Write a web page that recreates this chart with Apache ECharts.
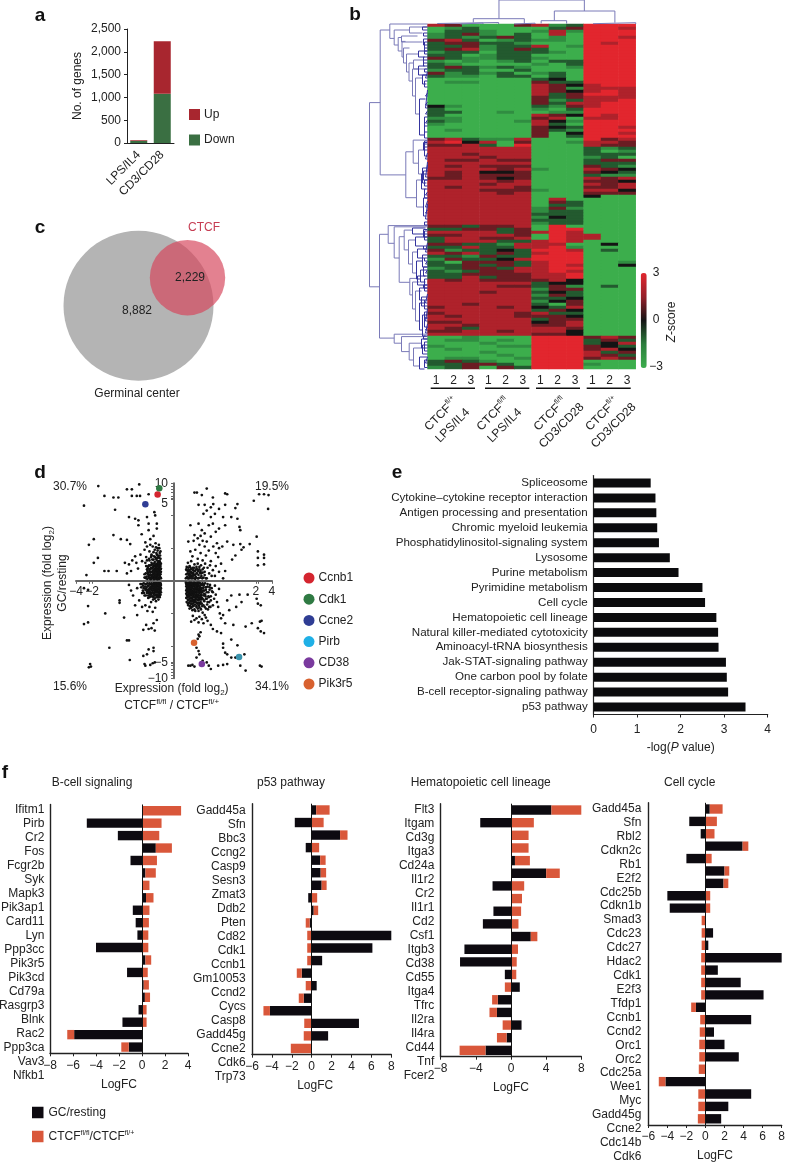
<!DOCTYPE html>
<html>
<head>
<meta charset="utf-8">
<style>html,body{margin:0;padding:0;background:#fff}#fig{width:788px;height:1164px}</style>
<script src="https://cdn.jsdelivr.net/npm/echarts@6/dist/echarts.min.js"></script>
</head>
<body>
<div id="fig"></div>
<script>
const FONT = '"Liberation Sans", Arial, sans-serif';
const INK = '#222222';

// panel a
const aCategories = ['LPS/IL4', 'CD3/CD28'];
const aDown = [48, 1080];
const aUp = [15, 1150];

// panel c
const vennSizes = [11111, 2807];
const vennX = [0, 49];
const vennY = [0, 28];

// panel b: 0 = z -3 ... 3 = z 0 ... 6 = z +3, one string per gene row
const heatColumns = ['1', '2', '3', '1', '2', '3', '1', '2', '3', '1', '2', '3'];
const heatRows = [
  '540004512666','012000024665','022100151666','124102050666','121242010665','452012110666',
  '244221000656','224122501666','245124200666','122022210666','220122000666','421122100666',
  '101012022666','210000102666','242121001666','122002000666','412120120666','211022020666',
  '000000230666','011000422666','000000543566','000000541555','000000543565','000000524665',
  '000000424555','000000412556','000000425566','310000214566','200000102666','220010011666',
  '200000543656','110000450556','210001531666','100000520666','000000432665','010000421666',
  '000000403665','000000402666','452115000645','563504001554','445206000544','555555000212',
  '555555000201','554555000222','555455000120','544544000244','555555000222','545444000421',
  '555545100543','545334000432','545444000211','445434000545','555545000443','555455000545',
  '545554000445','555444100553','555545000444','555555000300','555555050000','555555042000',
  '555555022000','555555141000','555555122000','555555222000','555555132000','555555222000',
  '555555122000','442445060000','224424066000','555524565000','445554065500','255445065500',
  '255522565000','442215550030','225225561000','412232665020','545242566000','221422666000',
  '142235666000','204442566001','224242565003','124425566000','212445565000','224444556000',
  '225244556000','545444453000','555555233000','555544241020','555555144000','555455232000',
  '555555142000','555555223000','555555134000','554555204000','455545325000','555555243000',
  '455554522000','545554443000','555555244000','445555345000','554555445000','542555554000',
  '445545553000','555555443000','001000666454','011010666242','000100666235','100011666432',
  '010000666453','000100666524','000010666542','011001666454','242100666000','224420666100',
  '124042666000'
];

// dendrograms: [join height, row A, height A, row B, height B]
const rowLinks = [
  [58,26.2,47.3,87.6,48],[47.3,2,37.7,50.3,21.7],[48,70.1,39.3,104.7,33.3],
  [37.7,0,0,4.8,33.3],[33.3,2,18,7,29.3],[18,1,0,3,5],[29.3,4.5,26,9,25.5],[26,4,10,6,5],
  [25.5,5.8,22,11,24],[24,8,18,13,21],[21,10,9,16,18.5],[18.5,13,14,19,15],[14,12,4,15,0],
  [15,15,9,24,12],[12,18,5,30,8],[21.7,42.6,14.3,57.9,11],[14.3,38.7,0,46.4,9],[9,42,3,50,5],
  [11,52,6,61,4],[39.3,67.2,0,73.1,33.3],[33.3,67.6,0,78,28.3],[28.3,70.9,23.3,86.1,17.7],
  [23.3,68.7,15,75.3,19],[19,72,12,80,15],[15,76,10,83,11],[17.7,84.8,10,90.3,15],
  [15,86,8,95,12],[12,89,6,99,8],[33.3,103.4,0,106.4,26],[26,104.2,0,109.2,18.3],
  [18.3,106.4,6,112,14],[14,108,5,114,8]
];
const rowLeafLinks = [
  [9,9,0,11,3],[9,14,3,17,0],[8,25,2,37,3],[5,17,0,20,1],[2,22,0,28,0],[3,31,0,38,0],[3,34,0,36,0],
  [5,48,0,53,1],[3,40,0,44,0],[6,50,0,55,2],[4,58,0,64,1],[2,60,0,65,0],[1,46,0,49,0],
  [15,68,2,70,0],[12,71,0,74,4],[10,75,0,78,3],[11,79,5,85,7],[5,77,0,81,0],[7,82,0,86,2],
  [10,84,2,87,0],[8,88,0,92,3],[6,91,0,94,0],[8,93,3,102,5],[3,96,0,98,0],[5,97,0,104,2],
  [2,100,0,103,0],[6,105,0,108,0],[5,107,0,110,0],[8,111,0,115,3],[3,112,0,114.5,0],
  [5,1,0,2,0],[4,5,0,7,0],[3,8,0,10,0],[4,12,0,13,0],[2,16,0,18,0],[3,19,0,21,0],[2,23,0,24,0],
  [2,26,0,27,0],[2,29,0,30,0],[2,32,0,33,0],[3,39,0,41,0],[2,43,0,45,0],[2,47,0,51,0],
  [3,52,0,54,0],[2,56,0,57,0],[2,59,0,61,0],[2,62,0,63,0],[3,66,0,67,0],[3,69,0,72,0],
  [2,73,0,76,0],[2,79,0,80,0],[2,82,0,83,0],[3,85,0,89,0],[2,90,0,93,0],[2,95,0,99,0],
  [2,101,0,102,0],[3,106,0,109,0],[2,111,0,113,0],[4,3,0,4,0],[3,6,0,9,0],[4,11,0,14,0],
  [3,15,0,16,0],[4,39.5,0,42,0],[4,49,0,52,0],[3,55,0,58,0],[4,68.5,0,71,0],[4,74,0,75,0],
  [3,78,0,79,0],[4,81,0,84,0],[4,87,0,88,0],[3,92,0,95,0],[3,98,0,101,0],[4,104,0,105,0]
];
const colLinks = [
  [24,4.12,5.3,9.04,13],[5.3,2.64,1.5,5.58,0],[1.5,0.56,0.5,4.1,0],[13,7.31,3.3,10.8,1.3],
  [3.3,6.55,0.5,8.02,0.5],[1.3,9.54,0.3,12,0],[1,1.9,0,3.2,0],[0.8,5.0,0,6.2,0]
];

// panel d: fold changes on the broken axes of the picture
const pointsUL = [
  [-1.85,5.8],[-1.7,5.2],[-1.48,5.1],[-1.36,5.1],[-1.15,5.6],[-1.03,5.6],[-.85,5.9],[-1.03,5.2],[-.91,5.2],[-.83,5.2],
  [-.62,5.3],[-2.2,4.6],[-1.44,4.35],[-.48,4.2],[-1.1,3.9],[-.95,3.8],[-.87,3.7],[-.66,3.9],[-.62,3.5],[-.42,3.5],
  [-.46,4],[-.42,3.2],[-.62,3.1],[-.87,3.4],[-1.48,2.8],[-1.3,2.55],[-1.15,2.5],[-1.96,2.55],[-2.08,2.2],[-.79,2.85],
  [-.7,2.35],[-.5,2.75],[-1.07,2.25],[-.58,2.55],[-1.86,1.4],[-1.96,1.1],[-1.7,.6],[-1.6,.6],[-1.4,.6],[-2.14,.35],
  [-1.2,1.1],[-1.1,1],[-1.02,1.25],[-.95,1.5],[-.88,.75],[-.92,1.1],[-1.05,.6],[-1.15,.45],[-.82,1.6],[-.78,1.2],
  [-.72,1.9],[-.68,1.45],[-.66,2.1],[-.62,.9],[-.6,1.8],[-.58,2.2],[-.55,1.6],[-.52,2.1],[-.5,1.3],[-.47,1.9],
  [-.45,2.3],[-.42,1.6],[-.4,2],[-.38,1.2],[-.37,2.2],[-.35,1.7],[-.7,1.1],[-.68,.9],[-.66,.7],[-.64,.5],
  [-.72,.4],[-.7,.2],[-.62,.3],[-.6,.15],[-.58,.5],[-.56,.8],[-.55,1.1],[-.54,.35],[-.52,.6],[-.5,.2],
  [-.5,.9],[-.48,.45],[-.47,1.15],[-.46,.7],[-.45,.15],[-.44,.9],[-.43,.35],[-.42,.55],[-.41,1.05],[-.4,.2],
  [-.4,.75],[-.39,.4],[-.38,.95],[-.37,.15],[-.36,.6],[-.35,.3],[-.35,.85],[-.34,1.1],[-.34,.5],[-.33,.2],
  [-.33,.7],[-.33,1.35],[-.68,.15],[-.64,.85],[-.6,.6],[-.57,.2],[-.53,1.3],[-.49,1.5],[-.44,1.35],[-.41,.12],
  [-.38,.6],[-.36,1.4],[-.66,1.25],[-.61,1.35],[-.56,1.45],[-.51,.4],[-.47,.25],[-.43,1.7],[-.39,1.55],[-.35,1.2],
  [-.72,.2],[-.69,.45],[-.67,.25],[-.65,.12],[-.65,.6],[-.63,.4],[-.63,.75],[-.61,.2],[-.61,.95],[-.59,.35],
  [-.59,.7],[-.57,.1],[-.57,.95],[-.56,.55],[-.55,.3],[-.54,.75],[-.53,.15],[-.53,1],[-.52,.5],[-.51,.85],
  [-.51,.25],[-.5,.65],[-.49,.1],[-.49,1.05],[-.48,.75],[-.48,.3],[-.47,.55],[-.47,.9],[-.46,.15],[-.46,.4],
  [-.45,.65],[-.45,1],[-.44,.25],[-.44,.8],[-.43,.5],[-.43,.12],[-.42,.7],[-.42,.95],[-.41,.3],[-.41,.6],
  [-.4,.1],[-.4,.45],[-.4,.9],[-.39,.2],[-.39,.65],[-.39,1.1],[-.38,.35],[-.38,.8],[-.37,.5],[-.37,.95],
  [-.36,.12],[-.36,.35],[-.36,.75],[-.35,.55],[-.35,1],[-.34,.2],[-.34,.7],[-.33,.4],[-.33,.9],[-.32,.15],
  [-.32,.55],[-.32,.75],[-.32,1.05],[-.6,1.25],[-.55,1.55],[-.5,1.75],[-.46,1.45],[-.44,2.05],[-.42,1.25],[-.4,1.85],
  [-.38,1.45],[-.36,2],[-.34,1.55],[-.33,1.8],[-.37,1.05],[-.41,1.4]
];
const pointsUR = [
  [.5,5.4],[.56,5.4],[.8,5.65],[.68,5.25],[.95,5.1],[1.25,5.35],[1.3,5.3],[1.5,4.45],[1.95,4.9],[2.08,5.3],
  [2.2,5.3],[2.31,5.25],[2.3,4.4],[.6,4.65],[.75,4.65],[.9,4.5],[.96,4.7],[1.25,4.65],[1.55,4.7],[.72,4.1],
  [.8,4.3],[.9,3.9],[1,4.1],[1.1,4.4],[1.2,3.9],[1.4,3.9],[1.55,3.8],[.4,3.4],[.6,3.5],[.68,3.1],
  [.85,3.4],[.95,3.5],[1.02,3],[1.1,3.2],[1.25,3.4],[1.6,3.3],[1.62,3.1],[.5,2.8],[.65,2.75],[.75,2.9],
  [.8,2.4],[.9,2.7],[1.05,2.3],[.35,2.4],[.48,2.45],[.58,2.6],[.7,2.45],[.62,2.2],[.75,2.1],[.96,2.1],
  [1.1,2],[1.18,2.1],[1.3,2.4],[1.45,2.2],[1.62,2.25],[1.7,2.05],[1.85,2.25],[2.02,2.7],[2.05,1.8],[2.2,1.6],
  [2.2,1.4],[2.05,1.4],[2.2,1],[2.05,.95],[1.65,1.9],[.4,1.8],[.45,1.5],[.52,1.9],[.58,1.35],[.65,1.7],
  [.7,1.25],[.78,1.55],[.85,1.85],[.9,1.2],[1.02,1.7],[1.08,1.45],[1.15,1.05],[1.25,.6],[1.42,1.3],[1.5,1.55],
  [.34,1.1],[.38,.9],[.42,1.2],[.46,.8],[.5,1],[.54,.7],[.58,1.05],[.62,.85],[.66,.95],[.7,.7],
  [.76,1.05],[.82,.8],[.88,.95],[.95,.65],[1.02,.9],[1.1,.55],[.3,.7],[.33,.45],[.36,.6],[.39,.25],
  [.42,.5],[.45,.15],[.48,.4],[.5,.6],[.53,.25],[.56,.45],[.6,.15],[.63,.5],[.67,.3],[.72,.2],
  [.31,.2],[.34,.15],[.37,.35],[.41,.7],[.44,.3],[.47,.65],[.52,.12],[.55,.85],[.59,.6],[.65,.6],
  [.75,.35],[.8,.15],[.86,.45],[.92,.3],[1,.3],[1.2,.15],
  [.29,.15],[.3,.4],[.31,.65],[.31,.85],[.33,.25],[.34,.6],[.35,.15],[.35,.8],[.37,.45],[.37,.65],
  [.38,.15],[.39,.85],[.4,.35],[.41,.55],[.42,.15],[.43,.75],[.44,.45],[.46,.3],[.47,.5],[.49,.15],
  [.49,.8],[.51,.35],[.52,.6],[.54,.2],[.55,.45],[.57,.7],[.58,.15],[.6,.35],[.62,.7],[.64,.2],
  [.66,.45],[.69,.15],[.7,.5],[.73,.8],[.75,.55],[.78,.15]
];
const pointsLL = [
  [-2.1,-.55],[-2.1,-1.55],[-2.2,-.45],[-2.2,-2.65],[-2.1,-2.55],[-1.68,-2],[-1.33,-1.2],[-1.33,-1.35],[-1.22,-2.25],[-1.1,-.25],
  [-1.05,-.6],[-1,-.9],[-.95,-1.5],[-.9,-2.1],[-.85,-1.2],[-.9,-.45],[-.82,-.2],[-.78,-1.6],[-.75,-.7],[-1.15,-3.65],
  [-1.1,-3.65],[-1.58,-4.1],[-1.08,-4.85],[-.75,-4.6],[-.66,-4.5],[-.5,-4.1],[-.5,-4.3],[-.62,-4.2],[-.72,-5.1],[-.7,-5.2],
  [-.58,-5.15],[-.52,-5.05],[-.47,-5],[-2.05,-5.1],[-2.03,-5.25],[-2.08,-5.3],[-.5,-2.6],[-.55,-2.9],[-.42,-2.4],[-.68,-2.7],
  [-.62,-2.95],[-.47,-3.05],[-.75,-3],[-.6,-1.6],[-.52,-1.9],[-.46,-1.65],[-.7,-1.5],[-.65,-1.85],[-.72,-.9],[-.68,-.5],
  [-.64,-.3],[-.62,-.75],[-.6,-.15],[-.58,-.45],[-.56,-.95],[-.55,-.2],[-.53,-.6],[-.52,-.3],[-.5,-.8],[-.5,-.15],
  [-.48,-.5],[-.47,-1.1],[-.46,-.25],[-.45,-.7],[-.44,-.4],[-.43,-.15],[-.42,-.9],[-.41,-.55],[-.4,-.2],[-.4,-1],
  [-.39,-.35],[-.38,-.7],[-.37,-.15],[-.36,-.5],[-.35,-.85],[-.35,-.25],[-.34,-.6],[-.33,-.15],[-.33,-.4],[-.66,-.65],
  [-.61,-.55],[-.57,-.7],[-.54,-.45],[-.49,-.35],[-.44,-1.25],[-.42,-.3],[-.38,-1.15],[-.36,-.95],[-.34,-.3],[-.59,-.85],
  [-.7,-.2],[-.74,-.45],[-.76,-.3],[-.63,-1.05],[-.56,-1.3],[-.51,-1.15],[-.78,-.75],[-.41,-.7],[-.39,-.15],[-.46,-.55],
  [-.8,-.4],[-.78,-.2],[-.76,-.6],[-.74,-.15],[-.73,-.75],[-.71,-.35],[-.7,-.55],[-.69,-.9],[-.68,-.2],[-.67,-.4],
  [-.66,-.75],[-.65,-.15],[-.64,-.55],[-.63,-.9],[-.62,-.3],[-.61,-.65],[-.6,-.45],[-.6,-1],[-.59,-.2],[-.58,-.75],
  [-.57,-.35],[-.56,-.55],[-.55,-.15],[-.55,-.8],[-.54,-.3],[-.53,-.95],[-.52,-.45],[-.52,-.7],[-.51,-.2],[-.5,-.55],
  [-.5,-1],[-.49,-.3],[-.49,-.75],[-.48,-.15],[-.48,-.9],[-.47,-.4],[-.47,-.65],[-.46,-.15],[-.45,-.5],[-.45,-.85],
  [-.44,-.25],[-.44,-.7],[-.43,-.45],[-.43,-1],[-.42,-.15],[-.42,-.6],[-.41,-.85],[-.41,-.3],[-.4,-.5],[-.39,-.7],
  [-.39,-.25],[-.38,-.45],[-.38,-.9],[-.37,-.3],[-.37,-.65],[-.36,-.15],[-.36,-.8],[-.35,-.45],[-.35,-1],[-.34,-.7],
  [-.34,-.15],[-.33,-.55],[-.33,-.85],[-.32,-.25],[-.32,-.45],[-.32,-.7]
];
const pointsLR = [
  [.3,-.2],[.32,-.45],[.34,-.7],[.36,-.15],[.38,-.5],[.4,-.85],[.42,-.25],[.44,-.6],[.46,-.15],[.48,-.95],
  [.5,-.35],[.52,-.7],[.54,-.2],[.56,-.5],[.58,-1],[.6,-.3],[.62,-.75],[.64,-.15],[.66,-.55],[.68,-1.05],
  [.3,-.6],[.32,-.9],[.34,-1.15],[.36,-.4],[.38,-.75],[.4,-1.25],[.42,-.55],[.44,-1.05],[.46,-.35],[.48,-.65],
  [.5,-1.2],[.52,-.15],[.54,-.9],[.56,-1.35],[.58,-.2],[.6,-.6],[.62,-1.15],[.64,-.4],[.66,-.85],[.68,-.25],
  [.31,-.3],[.33,-.15],[.35,-.55],[.37,-.95],[.39,-.3],[.41,-.6],[.43,-1.4],[.45,-.8],[.47,-1.2],[.49,-.2],
  [.51,-.5],[.53,-1.05],[.55,-.7],[.57,-.35],[.59,-.85],[.61,-1.5],[.63,-.55],[.65,-1.3],[.67,-.7],[.69,-1.55],
  [.72,-.3],[.74,-.8],[.76,-.15],[.78,-.55],[.8,-1.1],[.82,-.35],[.84,-.7],[.86,-1.3],[.88,-.25],[.9,-.95],
  [.71,-.6],[.73,-1.2],[.75,-1.6],[.77,-.95],[.79,-.4],[.81,-1.45],[.83,-1.75],[.85,-1],[.87,-.55],[.89,-1.6],
  [.35,-1.5],[.38,-1.7],[.42,-1.65],[.46,-1.55],[.5,-1.75],[.55,-1.6],[.6,-1.85],[.65,-1.7],[.7,-1.95],[.75,-2.1],
  [.46,-2.15],[.5,-2.4],[.42,-2.5],[.55,-2.3],[.6,-2.55],[.62,-2.2],[.68,-2.35],[.72,-2.6],[.78,-2.25],[.82,-2.45],
  [.92,-.45],[.95,-.7],[.98,-1.1],[1,-.3],[1.02,-.85],[1.05,-1.3],[1.08,-1.6],[1.1,-.5],[1.12,-2],[1.15,-2.3],
  [1.2,-2.1],[1.25,-2.6],[1.3,-1.2],[1.35,-1.8],[1.4,-.9],[1.45,-2.7],[1.52,-1.6],[1.6,-.85],[1.65,-1.3],[1.75,-2.8],
  [1.8,-.85],[1.9,-2.6],[2.02,-1.1],[2.05,-1.4],[2.12,-1.5],[2.1,-2.5],[2.14,-2.45],[2.2,-3.2],[2.12,-3.1],[2.05,-2.9],
  [.9,-2.7],[.95,-2.95],[1.05,-3.1],[1.15,-3.2],[.6,-3.3],[.62,-3.4],[.65,-3.15],[.58,-3.55],[.55,-4.1],[.6,-4.3],
  [.62,-4.5],[.55,-4.7],[.7,-4.9],[.8,-5],[.85,-5.2],[.9,-5.4],[1.08,-5.2],[1.2,-5.15],[1.3,-5.1],[.35,-5.2],
  [.4,-5.2],[.45,-5.15],[.5,-5.25],[1.2,-4.1],[1.25,-4.4],[1.3,-4.5],[1.4,-4.7],[1.5,-4.7],[1.62,-5.2],[1.75,-5.5],
  [2.1,-5.2],[2.14,-5.25],[1.72,-4.5],[1.55,-3.95],[1.4,-3.6],[1.2,-3.85],
  [.29,-.12],[.3,-.35],[.3,-.8],[.3,-1.05],[.31,-.55],[.31,-1.3],[.32,-.2],[.32,-.7],[.33,-.45],[.33,-1],
  [.34,-.3],[.34,-.85],[.34,-1.4],[.35,-.15],[.35,-.65],[.35,-1.2],[.36,-.5],[.36,-.95],[.37,-.25],[.37,-.75],
  [.37,-1.35],[.38,-.12],[.38,-.6],[.38,-1.1],[.39,-.4],[.39,-.85],[.39,-1.55],[.4,-.2],[.4,-.65],[.4,-1.05],
  [.41,-.45],[.41,-.9],[.41,-1.4],[.42,-.12],[.42,-.75],[.42,-1.2],[.43,-.35],[.43,-.6],[.43,-1.6],[.44,-.2],
  [.44,-.85],[.44,-1.25],[.45,-.45],[.45,-1],[.45,-1.8],[.46,-.7],[.46,-1.4],[.47,-.28],[.47,-.85],[.47,-1.15],
  [.48,-.5],[.48,-1.55],[.49,-.12],[.49,-.75],[.49,-1.3],[.5,-.55],[.5,-1],[.51,-.25],[.51,-.85],[.51,-1.45],
  [.52,-.45],[.52,-1.15],[.52,-1.85],[.53,-.65],[.53,-.15],[.53,-1.3],[.54,-.4],[.54,-1],[.55,-.8],[.55,-1.55],
  [.56,-.28],[.56,-1.15],[.57,-.6],[.57,-.12],[.57,-1.4],[.58,-.45],[.58,-.9],[.58,-1.7],[.59,-.25],[.59,-1.2],
  [.6,-.7],[.6,-1.05],[.61,-.12],[.61,-.5],[.61,-1.35],[.62,-.9],[.62,-1.6],[.63,-.3],[.63,-1.05],[.64,-.65],
  [.64,-1.4],[.65,-.45],[.65,-.95],[.66,-.2],[.66,-1.15],[.66,-1.75],[.67,-.85],[.68,-.45],[.68,-1.4],[.69,-.7],
  [.7,-.15],[.7,-1.1],[.71,-.45],[.72,-.9],[.72,-1.5],[.73,-.25],[.74,-.6],[.74,-1.25],[.76,-.85],[.77,-.4],
  [.78,-1.1],[.78,-1.7],[.8,-.7],[.82,-.2],[.82,-1.3],[.84,-.95],[.86,-1.6],[.87,-.4],[.9,-1.2],[.93,-.65],[.95,-1.5]
];
const geneNames = ['Ccnb1', 'Cdk1', 'Ccne2', 'Pirb', 'CD38', 'Pik3r5'];
const geneX = [-.40, -.36, -.70, 1.59, .68, .49];
const geneY = [5.29, 5.67, 4.69, -4.67, -5.1, -3.8];
const geneColors = ['#d4252f', '#2f7a43', '#2f3d94', '#3a93ad', '#7a3a9e', '#d8612f'];
const geneKeyColors = ['#d4252f', '#2f7a43', '#2f3d94', '#1fb0e6', '#7a3a9e', '#d8612f'];
const dPercents = ['30.7%', '19.5%', '15.6%', '34.1%'];

// panel e
const pathwayNames = [
  'Spliceosome', 'Cytokine\u2013cytokine receptor interaction', 'Antigen processing and presentation',
  'Chromic myeloid leukemia', 'Phosphatidylinositol-signaling system', 'Lysosome', 'Purine metabolism',
  'Pyrimidine metabolism', 'Cell cycle', 'Hematopoietic cell lineage', 'Natural killer-mediated cytotoxicity',
  'Aminoacyl-tRNA biosynthesis', 'Jak-STAT-signaling pathway', 'One carbon pool by folate',
  'B-cell receptor-signaling pathway', 'p53 pathway'
];
const pathwayValues = [1.31, 1.42, 1.44, 1.46, 1.5, 1.75, 1.95, 2.5, 2.56, 2.82, 2.86, 2.87, 3.04, 3.06, 3.09, 3.49];

// panel f: second series stacks on the first when the signs agree
const bcellGenes = ['Ifitm1','Pirb','Cr2','Fos','Fcgr2b','Syk','Mapk3','Pik3ap1','Card11','Lyn','Ppp3cc','Pik3r5','Pik3cd','Cd79a','Rasgrp3','Blnk','Rac2','Ppp3ca','Vav3','Nfkb1'];
const bcellGC = [0,-4.8,-2.1,1.2,-1,.3,0,.35,-.8,-.55,-.4,-4,.3,-1.3,.15,.25,-.3,-1.7,-5.9,-1.15];
const bcellCTCF = [3.4,1.7,1.5,1.4,1.3,.9,.65,.65,.65,.6,.55,.55,.5,.5,.45,.45,.4,.4,-.6,-.65];

const p53Genes = ['Gadd45a','Sfn','Bbc3','Ccng2','Casp9','Sesn3','Zmat3','Ddb2','Pten','Cd82','Cdk1','Ccnb1','Gm10053','Ccnd2','Cycs','Casp8','Gadd45g','Ccne2','Cdk6','Trp73'];
const p53GC = [.45,-1.7,2.85,-.6,.85,.9,1,-.35,.2,-.2,8,6.1,1.05,-1,.5,-.8,-4.2,4.75,1.65,0];
const p53CTCF = [1.35,1.2,.75,.75,.55,.55,.5,.55,.45,-.4,-.45,-.45,-.45,-.5,-.6,-.5,-.65,-.75,-.8,-2.1];

const hemaGenes = ['Flt3','Itgam','Cd3g','Itga3','Cd24a','Il1r2','Cr2','Il1r1','Cd2','Csf1','Itgb3','Cd38','Cd55','Itga4','Tfrc','Il2ra','Il4ra','Cd44','Tnf','Fcer2'];
const hemaGC = [4.6,-3.5,0,0,.45,4,-2.1,0,-2,-3.2,2.25,-5.3,-5.8,-.7,1,-1.5,-1.6,1.2,-.5,-2.9];
const hemaCTCF = [3.4,2.6,2,2,1.7,1.55,1.5,1.25,1.15,.85,.75,.8,.65,.6,-.7,-.65,-.85,-.95,-1.1,-2.95];

const cycleGenes = ['Gadd45a','Sfn','Rbl2','Cdkn2c','Rb1','E2f2','Cdc25b','Cdkn1b','Smad3','Cdc23','Cdc27','Hdac2','Cdk1','E2f3','Tfdp1','Ccnb1','Ccnd2','Orc1','Orc2','Cdc25a','Wee1','Myc','Gadd45g','Ccne2','Cdc14b','Cdk6'];
const cycleGC = [.45,-1.7,-.5,3.9,-2,2,1.9,-4,-3.75,0,.8,.3,8,1.3,3.7,6.1,-1,4.8,.9,2,3.5,0,-4.2,4.8,2.4,1.65];
const cycleCTCF = [1.35,1.2,.95,.6,.65,.5,.5,.5,.5,-.4,-.4,-.4,-.45,-.45,-.45,-.45,-.5,-.55,-.6,-.65,-.65,-.7,-.7,-.75,-.75,-.8];

const GC_NAME = 'GC/resting';
const CTCF_NAME = 'CTCF ratio';

const chart = echarts.init(document.getElementById('fig'));
const grid = [], xAxis = [], yAxis = [], series = [], graphic = [];

function addGrid(g, x, y) {
  grid.push(g);
  const i = grid.length - 1;
  xAxis.push(Object.assign({ gridIndex: i }, x));
  yAxis.push(Object.assign({ gridIndex: i }, y));
  return i;
}
function hiddenAxis(min, max, inverse) {
  return { type: 'value', min: min, max: max, inverse: !!inverse, show: false };
}
function text(x, y, str, opt) {
  opt = opt || {};
  graphic.push({
    type: 'text', x: x, y: y, z: 50, rotation: opt.rotation || 0, silent: true,
    style: {
      text: str, fill: opt.fill || INK, align: opt.align || 'center', verticalAlign: 'middle',
      font: (opt.weight || '') + ' ' + (opt.size || 12) + 'px ' + FONT,
      rich: opt.rich
    }
  });
}
const axisStroke = { lineStyle: { color: INK, width: 1 } };

// ---- a
let g = addGrid({ left: 127, top: 29, width: 47, height: 114 },
  { type: 'category', data: aCategories, axisLine: axisStroke, axisTick: { show: false },
    axisLabel: { rotate: 45, interval: 0, fontSize: 12, color: INK, margin: 10 } },
  { type: 'value', min: 0, max: 2500, interval: 500, splitLine: { show: false },
    axisLine: { show: true, lineStyle: { color: INK, width: 1 } }, axisTick: { show: true, length: 3, lineStyle: { color: INK } },
    axisLabel: { fontSize: 12, color: INK, margin: 6, formatter: v => v.toLocaleString('en-US') },
    name: 'No. of genes', nameLocation: 'middle', nameGap: 43, nameTextStyle: { fontSize: 12, color: INK } });
series.push({ name: 'Down', type: 'bar', stack: 'a', xAxisIndex: g, yAxisIndex: g, data: aDown, barWidth: 17, itemStyle: { color: '#3a6f42' } });
series.push({ name: 'Up', type: 'bar', stack: 'a', xAxisIndex: g, yAxisIndex: g, data: aUp, barWidth: 17, itemStyle: { color: '#a8262f' } });

// ---- c
g = addGrid({ left: 63.5, top: 220, width: 200, height: 170 }, hiddenAxis(-75, 125), hiddenAxis(-84.3, 85.7));
const vennColors = ['#b4b4b4', 'rgba(214,70,92,0.68)'];
vennSizes.forEach((size, i) => {
  series.push({
    type: 'scatter', xAxisIndex: g, yAxisIndex: g, data: [[vennX[i], vennY[i]]], clip: false,
    symbolSize: 2 * 75 * Math.sqrt(size / vennSizes[0]), itemStyle: { color: vennColors[i], opacity: 1 }, z: 2 + i
  });
});
text(137, 310.7, '8,882');
text(190, 278, '2,229');
text(204, 228, 'CTCF', { fill: '#c63c52' });
text(137, 394, 'Germinal center');

// ---- b
const heatData = [];
heatRows.forEach((row, r) => {
  row.split('').forEach((c, col) => heatData.push([col, r, Number(c) - 3]));
});
g = addGrid({ left: 427.5, top: 24, width: 208.2, height: 345 },
  { type: 'category', data: heatColumns.map((c, i) => ({ value: c + '_' + i })), axisLine: { show: false }, axisTick: { show: false }, splitLine: { show: false },
    axisLabel: { interval: 0, fontSize: 12, color: INK, margin: 6, formatter: v => v.split('_')[0] } },
  { type: 'category', data: heatRows.map((r, i) => i), inverse: true, show: false });
const heatSeries = series.length;
series.push({ type: 'heatmap', xAxisIndex: g, yAxisIndex: g, data: heatData, progressive: 0 });

function linkLine(links) {
  const pts = [];
  links.forEach(l => {
    pts.push([l[2], l[1]], [l[0], l[1]], [l[0], l[3]], [l[4], l[3]], [null, null]);
  });
  return pts;
}
g = addGrid({ left: 365, top: 24, width: 62.5, height: 345 }, hiddenAxis(0, 62.5, true), hiddenAxis(0, 115, true));
const dendro = { type: 'line', showSymbol: false, symbol: 'none', connectNulls: false, clip: false, xAxisIndex: g, yAxisIndex: g };
series.push(Object.assign({}, dendro, { data: linkLine(rowLinks), lineStyle: { color: '#7a7ab8', width: 1 } }));
series.push(Object.assign({}, dendro, { data: linkLine(rowLeafLinks), lineStyle: { color: '#34349e', width: 1 } }));

g = addGrid({ left: 427.5, top: 0, width: 208.2, height: 24 }, hiddenAxis(0, 12), hiddenAxis(0, 24));
series.push({
  type: 'line', symbol: 'none', showSymbol: false, connectNulls: false, clip: false, xAxisIndex: g, yAxisIndex: g,
  data: (() => {
    const pts = [];
    colLinks.forEach(l => pts.push([l[1], l[2]], [l[1], l[0]], [l[3], l[0]], [l[3], l[4]], [null, null]));
    return pts;
  })(),
  lineStyle: { color: '#7a7ab8', width: 1 }
});

[[430.7, 475], [485, 529.3], [536, 580], [586.7, 630.7]].forEach(p => {
  graphic.push({ type: 'line', silent: true, shape: { x1: p[0], y1: 388.3, x2: p[1], y2: 388.3 }, style: { stroke: '#111', lineWidth: 1.6 } });
});
const supRich = { s: { fontSize: 7, verticalAlign: 'top', lineHeight: 16, fontFamily: FONT, fill: INK, color: INK }, t: { fontSize: 12, lineHeight: 16, fontFamily: FONT, fill: INK, color: INK } };
[[447, 420, 'fl/+', 'LPS/IL4'], [499, 420, 'fl/fl', 'LPS/IL4'], [556, 420, 'fl/fl', 'CD3/CD28'], [608, 420, 'fl/+', 'CD3/CD28']].forEach(l => {
  text(l[0], l[1], '{t|CTCF}{s|' + l[2] + '}\n{t|' + l[3] + '}', { rotation: Math.PI / 4, rich: supRich });
});
text(656, 273, '3');
text(656, 320, '0');
text(656, 367, '\u22123');
text(671.7, 322, '{i|Z}{t|-score}', { rotation: Math.PI / 2, rich: { i: { fontSize: 12, fontStyle: 'italic', fontFamily: FONT, fill: INK }, t: { fontSize: 12, fontFamily: FONT, fill: INK } } });

// ---- d
const xTickLabels = { '-2.39': '\u22124', '-2': '\u22122', '2': '2', '2.39': '4' };
const yTickLabels = { '-5.97': '\u221210', '-5': '\u22125', '4.72': '5', '5.97': '10' };
const dAxisLine = { onZero: false, lineStyle: { color: '#666', width: 2 } };
g = addGrid({ left: 76, top: 483.3, width: 196, height: 195 },
  { type: 'value', min: -2.395, max: 2.395, position: 'bottom', offset: -97.5, splitLine: { show: false }, axisLine: dAxisLine,
    axisTick: { show: true, inside: false, length: 3, lineStyle: { color: '#666' }, customValues: [-2.395, -2.06, -2, 2, 2.06, 2.395] },
    axisLabel: { fontSize: 12, color: INK, margin: 5, customValues: [-2.39, -2, 2, 2.39], formatter: v => xTickLabels[String(v)] } },
  { type: 'value', min: -5.97, max: 5.97, position: 'left', offset: -98, splitLine: { show: false }, axisLine: dAxisLine,
    axisTick: { show: true, length: 3, lineStyle: { color: '#666' }, customValues: [-5.97, -5.8, -5.6, -5.4, -5.2, -5.06, -5, -4, -2, 2, 4, 5, 5.06, 5.2, 5.4, 5.6, 5.8, 5.97] },
    axisLabel: { fontSize: 12, color: INK, margin: 6, customValues: [-5.97, -5, 4.72, 5.97], formatter: v => yTickLabels[String(v)] } });
series.push({
  type: 'scatter', xAxisIndex: g, yAxisIndex: g, clip: false, symbolSize: 2.7,
  data: pointsUL.concat(pointsUR, pointsLL, pointsLR), itemStyle: { color: '#111', opacity: 1 }
});
geneNames.forEach((n, i) => {
  series.push({ name: n, type: 'scatter', xAxisIndex: g, yAxisIndex: g, clip: false, symbolSize: 6.5, z: 4,
    data: [[geneX[i], geneY[i]]], itemStyle: { color: geneColors[i], opacity: 1 } });
});
text(70, 486.7, dPercents[0]);
text(272, 486.7, dPercents[1]);
text(70, 686.7, dPercents[2]);
text(272, 686.7, dPercents[3]);
const logRich = { t: { fontSize: 12, fontFamily: FONT, fill: INK, lineHeight: 16 }, s: { fontSize: 8, verticalAlign: 'bottom', fontFamily: FONT, fill: INK, lineHeight: 16 }, u: { fontSize: 8, verticalAlign: 'top', fontFamily: FONT, fill: INK, lineHeight: 16 } };
text(171.7, 689, '{t|Expression (fold log}{s|2}{t|)}', { rich: logRich });
text(171.7, 705.5, '{t|CTCF}{u|fl/fl}{t| / CTCF}{u|fl/+}', { rich: logRich });
text(48, 583, '{t|Expression (fold log}{s|2}{t|)}', { rotation: Math.PI / 2, rich: logRich });
text(62.7, 583, 'GC/resting', { rotation: Math.PI / 2 });

// ---- e
g = addGrid({ left: 593.7, top: 475.5, width: 174, height: 239 },
  { type: 'value', min: 0, max: 4, interval: 1, splitLine: { show: false },
    axisLine: { show: true, lineStyle: { color: INK, width: 1.2 } }, axisTick: { show: true, length: 3, lineStyle: { color: INK } },
    axisLabel: { fontSize: 12, color: INK, margin: 9 },
    name: '{t|-log(}{i|P}{t| value)}', nameLocation: 'middle', nameGap: 27,
    nameTextStyle: { rich: { t: { fontSize: 12, color: INK }, i: { fontSize: 12, color: INK, fontStyle: 'italic' } } } },
  { type: 'category', inverse: true, data: pathwayNames, axisLine: { show: true, onZero: false, lineStyle: { color: INK, width: 1.2 } }, axisTick: { show: false },
    axisLabel: { interval: 0, fontSize: 11.6, color: INK, margin: 6 } });
series.push({ type: 'bar', xAxisIndex: g, yAxisIndex: g, data: pathwayValues, barWidth: 9, itemStyle: { color: '#0b0b0d' } });

// ---- f
const fPanels = [
  { title: 'B-cell signaling', titleX: 92, genes: bcellGenes, gc: bcellGC, ctcf: bcellCTCF, left: 50, width: 138, top: 804.5, height: 248.8, min: -8, max: 4, step: 2, labelX: 43.3, labelY: 809.7, labelGap: 14, nameShift: 0 },
  { title: 'p53 pathway', titleX: 291, genes: p53Genes, gc: p53GC, ctcf: p53CTCF, left: 252, width: 139.3, top: 803.7, height: 251, min: -6, max: 8, step: 2, labelX: 245.7, labelY: 810.7, labelGap: 14, nameShift: 13 },
  { title: 'Hematopoietic cell lineage', titleX: 480.7, genes: hemaGenes, gc: hemaGC, ctcf: hemaCTCF, left: 440.7, width: 140.6, top: 803.7, height: 253, min: -8, max: 8, step: 4, labelX: 434.3, labelY: 810, labelGap: 14, nameShift: 0 },
  { title: 'Cell cycle', titleX: 689.7, genes: cycleGenes, gc: cycleGC, ctcf: cycleCTCF, left: 648.3, width: 136.4, top: 802.8, height: 322.2, min: -6, max: 8, step: 2, labelX: 641.3, labelY: 808.7, labelGap: 13.92, nameShift: 0 }
];
fPanels.forEach(p => {
  const i = addGrid({ left: p.left, top: p.top, width: p.width, height: p.height },
    { type: 'value', min: p.min, max: p.max, interval: p.step, splitLine: { show: false },
      axisLine: { show: true, onZero: false, lineStyle: { color: INK, width: 1.4 } }, axisTick: { show: true, length: 3, lineStyle: { color: INK } },
      axisLabel: { fontSize: 12, color: INK, margin: 6, showMinLabel: true, showMaxLabel: true, formatter: v => String(v).replace('-', '\u2212') },
      name: 'LogFC', nameLocation: 'middle', nameGap: 25,
      nameTextStyle: { fontSize: 12, color: INK, padding: [0, p.nameShift, 0, 0] } },
    { type: 'category', inverse: true, data: p.genes, axisLine: { show: true, onZero: false, lineStyle: { color: INK, width: 1.4 } },
      axisTick: { show: false }, axisLabel: { show: false } });
  // black first so it sits next to zero, orange continues the stack
  series.push({ name: GC_NAME, type: 'bar', stack: 'f' + i, xAxisIndex: i, yAxisIndex: i, barWidth: 9.4, data: p.gc, itemStyle: { color: '#0d0a10' },
    markLine: { silent: true, symbol: 'none', animation: false, label: { show: false }, lineStyle: { color: '#111', width: 1, type: 'solid' }, data: [{ xAxis: 0 }] } });
  series.push({ name: CTCF_NAME, type: 'bar', stack: 'f' + i, xAxisIndex: i, yAxisIndex: i, barWidth: 9.4, data: p.ctcf, itemStyle: { color: '#d9573a' } });

  // the gene names run at their own spacing in the picture, so they get their own axis
  addGrid({ left: p.labelX, top: p.labelY - p.labelGap / 2, width: 1, height: p.labelGap * p.genes.length },
    hiddenAxis(0, 1),
    { type: 'category', inverse: true, data: p.genes, axisLine: { show: false }, axisTick: { show: false },
      axisLabel: { interval: 0, fontSize: 12, color: INK, margin: 0, align: 'right' } });
  text(p.titleX, 782.7, p.title);
});

// panel letters
[['a', 40, 16], ['b', 355, 15], ['c', 40, 228], ['d', 40, 473], ['e', 397, 473], ['f', 5, 773]].forEach(t => {
  text(t[1], t[2], t[0], { size: 19, weight: 'bold', fill: '#111' });
});

const option = {
  animation: false,
  backgroundColor: '#ffffff',
  textStyle: { fontFamily: FONT },
  grid: grid,
  xAxis: xAxis,
  yAxis: yAxis,
  series: series,
  graphic: { elements: graphic },
  visualMap: {
    type: 'continuous', seriesIndex: heatSeries, min: -3, max: 3, calculable: false, show: true,
    left: 640.7, top: 273, itemWidth: 6, itemHeight: 95, padding: 0, text: null, showLabel: false,
    inRange: { color: ['#3cae4c', '#2a7d3c', '#141414', '#96202a', '#e2262e'] },
    textStyle: { color: 'rgba(0,0,0,0)', fontSize: 1 }
  },
  legend: [
    { data: [{ name: 'Up', icon: 'rect' }, { name: 'Down', icon: 'rect' }], left: 189, top: 108.5, orient: 'vertical', padding: 0,
      itemWidth: 11, itemHeight: 11, itemGap: 13.5, selectedMode: false, textStyle: { fontSize: 12, color: INK, padding: [0, 0, 0, -1] } },
    { data: geneNames.map((n, i) => ({ name: n, icon: 'circle', itemStyle: { color: geneKeyColors[i] } })), left: 303.5, top: 572, orient: 'vertical', padding: 0,
      itemWidth: 11, itemHeight: 11, itemGap: 9.2, selectedMode: false, textStyle: { fontSize: 12, color: INK, padding: [0, 0, 0, -1] } },
    { data: [{ name: GC_NAME, icon: 'rect' }, { name: CTCF_NAME, icon: 'rect' }], left: 32, top: 1106.5, orient: 'vertical', padding: 0,
      itemWidth: 11.5, itemHeight: 11.5, itemGap: 11, selectedMode: false,
      formatter: n => n === GC_NAME ? n : 'CTCF{s|fl/fl}/CTCF{s|fl/+}',
      textStyle: { fontSize: 12, color: INK, rich: { s: { fontSize: 7, verticalAlign: 'top', color: INK, lineHeight: 14 } } } }
  ]
};
chart.setOption(option);
</script>
</body>
</html>
